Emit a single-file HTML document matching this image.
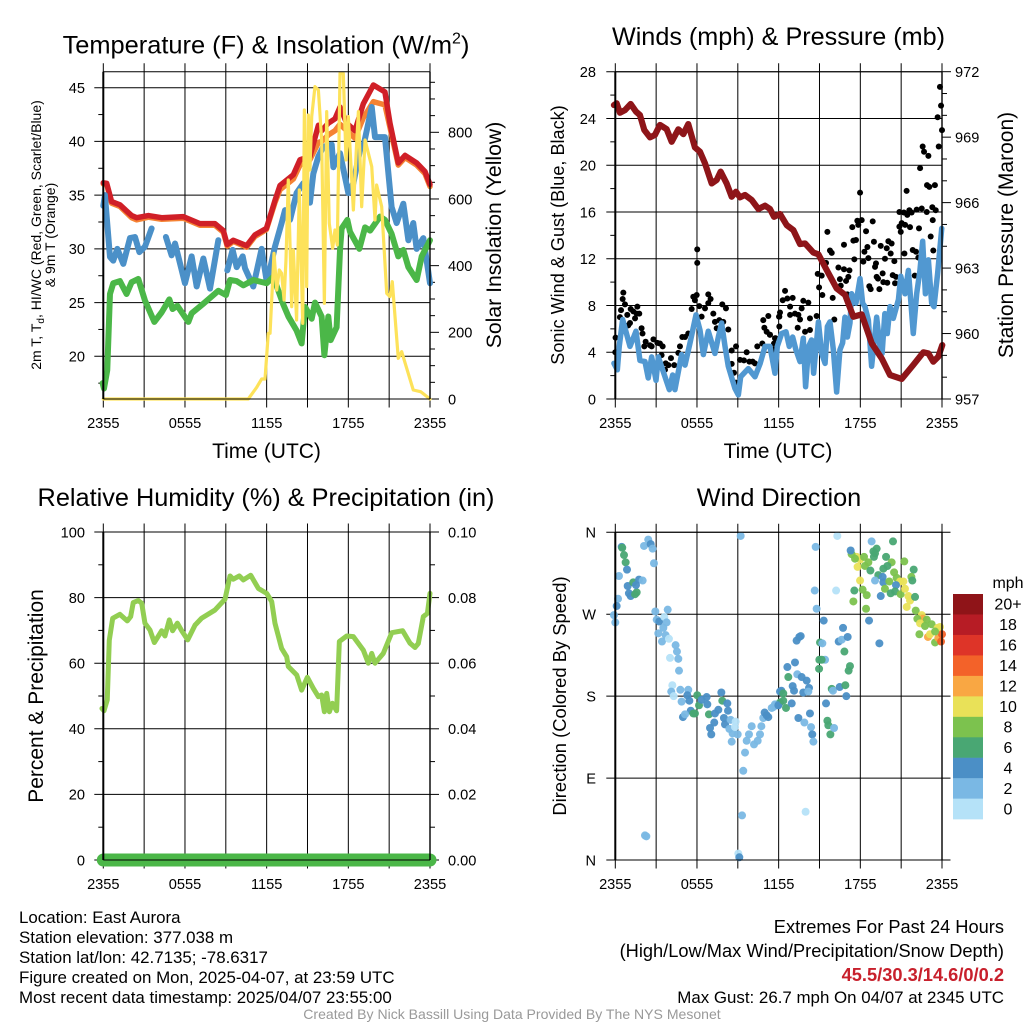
<!DOCTYPE html>
<html lang="en">
<head>
<meta charset="utf-8">
<title>East Aurora Meteogram</title>
<style>
html,body{margin:0;padding:0;background:#fff}
svg{display:block}
text{font-family:"Liberation Sans",sans-serif;fill:#000}
</style>
</head>
<body>
<svg id="fig" xmlns="http://www.w3.org/2000/svg" width="1024" height="1024" viewBox="0 0 1024 1024">
  <rect x="0" y="0" width="1024" height="1024" fill="#fff"/>

  <g id="p1"></g>
  <g id="p2"></g>
  <g id="p3"></g>
  <g id="p4"></g>

  <text x="266" y="53.5" font-size="25.4" text-anchor="middle">Temperature (F) &amp; Insolation (W/m<tspan dy="-10" font-size="16">2</tspan><tspan dy="10">)</tspan></text>
  <text x="266.5" y="458" font-size="21" text-anchor="middle">Time (UTC)</text>
  <text transform="translate(41,235) rotate(-90)" font-size="14" text-anchor="middle">2m T, T<tspan dy="3" font-size="10">d</tspan><tspan dy="-3">, HI/WC (Red, Green, Scarlet/Blue)</tspan></text>
  <text transform="translate(55,235) rotate(-90)" font-size="14" text-anchor="middle">&amp; 9m T (Orange)</text>
  <text transform="translate(501,235) rotate(-90)" font-size="21.2" text-anchor="middle">Solar Insolation (Yellow)</text>

  <text x="778.5" y="45" font-size="25.2" text-anchor="middle">Winds (mph) &amp; Pressure (mb)</text>
  <text x="778" y="458" font-size="21" text-anchor="middle">Time (UTC)</text>
  <text transform="translate(564,235) rotate(-90)" font-size="18.1" text-anchor="middle">Sonic Wind &amp; Gust (Blue, Black)</text>
  <text transform="translate(1013,235) rotate(-90)" font-size="21" text-anchor="middle">Station Pressure (Maroon)</text>

  <text x="266" y="506" font-size="25.3" text-anchor="middle">Relative Humidity (%) &amp; Precipitation (in)</text>
  <text transform="translate(43,696) rotate(-90)" font-size="21" text-anchor="middle">Percent &amp; Precipitation</text>

  <text x="779" y="506" font-size="25.3" text-anchor="middle">Wind Direction</text>
  <text transform="translate(566,696) rotate(-90)" font-size="18.4" text-anchor="middle">Direction (Colored By Speed)</text>

  <g id="legend">
    <text x="1008" y="588" font-size="16" text-anchor="middle">mph</text>
  </g>

  <g font-size="16.9">
    <text x="19" y="923">Location: East Aurora</text>
    <text x="19" y="943">Station elevation: 377.038 m</text>
    <text x="19" y="963">Station lat/lon: 42.7135; -78.6317</text>
    <text x="19" y="983">Figure created on Mon, 2025-04-07, at 23:59 UTC</text>
    <text x="19" y="1003">Most recent data timestamp: 2025/04/07 23:55:00</text>
  </g>
  <g text-anchor="end">
    <text x="1004" y="933" font-size="18.25">Extremes For Past 24 Hours</text>
    <text x="1004" y="957" font-size="18.25">(High/Low/Max Wind/Precipitation/Snow Depth)</text>
    <text x="1004" y="981" font-size="18.25" font-weight="bold" style="fill:#c8202c">45.5/30.3/14.6/0/0.2</text>
    <text x="1004" y="1003" font-size="16.9">Max Gust: 26.7 mph On 04/07 at 2345 UTC</text>
  </g>
  <text x="512" y="1019" font-size="14.05" text-anchor="middle" style="fill:#999">Created By Nick Bassill Using Data Provided By The NYS Mesonet</text>
</svg>

<script>
/* ---------- shared tick data ---------- */
const timeTickHours = [0, 6, 12, 18, 24];
const timeTickLabels = ["2355", "0555", "1155", "1755", "2355"];
const timeGridHours = [0, 3, 6, 9, 12, 15, 18, 21, 24];

/* ---------- temperature panel data ---------- */
const tempTicks = [20, 25, 30, 35, 40, 45];
const tempMinorTicks = [17.5, 22.5, 27.5, 32.5, 37.5, 42.5];
const solarTicks = [0, 200, 400, 600, 800];
const solarMinorTicks = [50, 100, 150, 250, 300, 350, 450, 500, 550, 650, 700, 750, 850, 900, 950];

const redHours = [0, .25, .61, 1.22, 2.08, 2.45, 3.31, 4.29, 5.88, 7.1, 8.2, 8.82, 9.1, 9.55, 10.53, 11.14, 11.98, 12.61, 12.98, 13.96, 14.45, 15.18, 15.8, 16.04, 16.53, 17.02, 17.39, 17.88, 18.49, 19.1, 19.84, 20.69, 21.06, 21.67, 22.17, 23.02, 23.63, 24];
const redTemp = [36.15, 36.1, 34.4, 34.1, 33.1, 32.9, 33.1, 32.9, 33, 32.35, 32.35, 31.7, 30.4, 30.8, 30.3, 31.3, 31.9, 34.5, 35.9, 36.9, 38.3, 38.6, 41.5, 41, 41.7, 42.1, 43.2, 41.7, 41, 43.5, 45.25, 44.6, 41.7, 38, 38.7, 38, 37.2, 36];
const orangeTemp = [36.05, 36, 34.25, 33.95, 32.9, 32.7, 32.95, 32.75, 32.85, 32.2, 32.2, 31.55, 30.25, 30.7, 30.15, 31.15, 31.8, 34.3, 35.5, 36.5, 37.8, 38.3, 39.9, 40, 40.6, 41, 41.6, 41, 40.3, 42.2, 43.7, 43.4, 41.3, 37.8, 38.5, 37.8, 37, 35.8];

const blueHours = [0, .12, .49, .73, 1.03, 1.47, 1.96, 2.33, 2.65, 3.06, 3.55, 3.6, 4.6, 5.02, 5.27, 6, 6.49, 6.86, 7.35, 7.84, 8.45, 8.5, 9.11, 9.5, 9.8, 10.24, 10.41, 11.02, 11.63, 12, 12.12, 12.61, 13.1, 13.35, 13.72, 14.2, 14.69, 15.18, 15.43, 15.8, 16.16, 16.78, 16.9, 17.39, 18, 18.37, 18.86, 19.1, 19.72, 19.96, 20.69, 21.18, 21.55, 22.04, 22.41, 22.77, 23.02, 23.51, 24];
const blueTemp = [34, 35, 29.25, 28.9, 30, 28.6, 31, 31.1, 29.7, 30.2, 31.9, null, 31.1, 29.4, 30.5, 26.8, 29.3, 26.5, 29.1, 26.3, 30.8, null, 28, 29.9, 28.3, 29.3, 28.2, 26.5, 30, 27, 27.4, 30.2, 32.4, 33.6, 32.7, 35.2, 36.1, 34.3, 37, 38.6, 39.5, 39.7, 37.6, 38.9, 35.2, 36.1, 39.2, 39.5, 43.2, 40.4, 40.4, 33.9, 32.4, 34.2, 30.8, 32.4, 30, 31, 26.8];

const greenHours = [-.05, .05, .29, .49, .73, 1.22, 1.71, 2.08, 2.57, 3.06, 3.75, 4.29, 4.85, 5.09, 5.44, 6.25, 6.49, 7.35, 8.45, 9.01, 9.31, 9.8, 10.29, 11.02, 12, 12.49, 12.86, 13.23, 13.6, 14.2, 14.57, 14.82, 15.31, 15.55, 16.04, 16.24, 16.53, 16.7, 17.14, 17.39, 17.51, 17.93, 18.12, 18.81, 19.23, 19.6, 20.33, 20.69, 21.18, 21.67, 22.04, 22.41, 23.02, 23.39, 24];
const greenTemp = [17.5, 17, 18.7, 25.8, 26.8, 27, 25.8, 26.9, 27.2, 25.2, 23.2, 24.1, 25.3, 24.4, 24.7, 23.2, 24, 24.9, 26.1, 25.7, 27.1, 27, 26.6, 27.1, 26.8, 27.4, 26.1, 24.8, 23.7, 22.4, 21.2, 24.6, 23.5, 25, 23.7, 20.1, 23.7, 21.5, 22.7, 29.9, 31.9, 32.7, 31.6, 30, 32, 31.7, 33, 32.7, 31.4, 29.3, 29.9, 28.3, 27.1, 29.3, 30.8];

const solarHours = [0, 10.65, 11.27, 11.63, 11.88, 12.12, 12.25, 12.54, 12.74, 12.93, 13.1, 13.28, 13.42, 13.59, 13.84, 13.96, 14.2, 14.4, 14.65, 14.77, 14.94, 15.06, 15.18, 15.31, 15.55, 15.8, 16.04, 16.24, 16.41, 16.6, 16.85, 17.02, 17.19, 17.39, 17.63, 17.83, 18, 18.37, 18.61, 18.74, 18.98, 19.23, 19.72, 19.96, 20.08, 20.45, 20.82, 21.06, 21.23, 21.67, 21.92, 22.77, 23.31, 24];
const solarValues = [0, 0, 35, 60, 60, 197, 197, 437, 327, 387, 377, 297, 417, 657, 277, 447, 237, 627, 227, 867, 337, 852, 687, 847, 937, 927, 777, 287, 862, 527, 452, 507, 462, 977, 977, 717, 847, 567, 767, 862, 577, 777, 697, 537, 642, 577, 317, 307, 352, 122, 142, 27, 22, 0];

/* ---------- winds panel data ---------- */
const windTicks = [0, 4, 8, 12, 16, 20, 24, 28];
const windMinorTicks = [2, 6, 10, 14, 18, 22, 26];
const pressureTicks = [957, 960, 963, 966, 969, 972];
const pressureMinorTicks = [958, 959, 961, 962, 964, 965, 967, 968, 970, 971];

const pressureHours = [-.1, .1, .34, .71, 1.13, 1.52, 1.81, 2.13, 2.55, 2.91, 3.28, 3.77, 4.14, 4.63, 5, 5.36, 5.85, 6.22, 6.59, 7.08, 7.45, 7.74, 8.18, 8.55, 8.87, 9.16, 9.53, 10.02, 10.51, 11, 11.36, 11.66, 12.1, 12.59, 13.08, 13.57, 13.94, 14.55, 14.92, 15.53, 16.26, 16.88, 17.49, 18.1, 18.84, 19.57, 20.18, 21.04, 21.89, 22.63, 23, 23.36, 23.73, 24.02];
const pressureValues = [970.47, 970.55, 970.12, 970.24, 970.52, 970.17, 970.01, 969.33, 968.99, 969.1, 969.56, 969.37, 968.79, 969.36, 969.14, 969.6, 968.53, 968.33, 967.8, 966.88, 967.04, 967.42, 966.88, 966.27, 966.5, 966.24, 966.35, 966.12, 965.71, 965.86, 965.71, 965.35, 965.48, 964.97, 964.74, 964.1, 964.13, 963.71, 963.63, 962.91, 962.07, 961.77, 960.77, 960.88, 959.55, 958.86, 958.1, 957.92, 958.56, 959.14, 959.09, 958.71, 958.94, 959.47];

const windHours = [-.1, .15, .29, .54, 1.08, 1.52, 1.81, 2.18, 2.42, 2.67, 2.99, 3.16, 3.65, 3.97, 4.21, 4.38, 4.87, 5.12, 5.49, 5.93, 6.22, 6.47, 6.83, 7.32, 7.57, 7.81, 8.06, 8.3, 8.79, 9.04, 9.21, 9.77, 10.26, 10.63, 11, 11.36, 11.73, 11.9, 12.22, 12.54, 12.78, 13.03, 13.27, 13.57, 13.81, 13.98, 14.2, 14.42, 14.57, 14.92, 15.16, 15.41, 15.58, 15.77, 16.02, 16.26, 16.5, 16.7, 16.87, 17.05, 17.24, 17.36, 17.68, 17.98, 18.17, 18.34, 18.59, 18.83, 19.2, 19.44, 19.6, 19.8, 19.98, 20.18, 20.42, 20.8, 20.97, 21.28, 21.53, 21.7, 21.89, 22.14, 22.38, 22.58, 22.78, 23, 23.24, 23.41, 23.68, 23.98];
const windSpeed = [3.05, 2.5, 4.5, 6.8, 4.5, 5.8, 3.3, 3.2, 1.8, 3.6, 1.6, 3.6, 1.9, .8, 2.05, .8, 3.8, 2.9, 4.8, 7.2, 5.9, 3.8, 5.8, 3.9, 5.3, 6.5, 4.5, 2.8, .9, .35, 1.9, 2.6, 1.9, 3, 4.5, 4.5, 2.2, 4.5, 5.6, 5.75, 4.5, 5.3, 4.2, 3.2, 5.2, 1.05, 4.5, 5.05, 2.2, 6.6, 3.9, 3.05, 6.2, 6.6, 4.2, .6, 4.2, 4.8, 7, 5.3, 6.5, 9, 8.2, 10.3, 8.2, 7.9, 6.75, 2.8, 7, 4.5, 3.9, 7.3, 5.6, 7.9, 6.9, 8.5, 10.5, 9, 11, 8.5, 5.6, 9, 11, 13.5, 9, 11.9, 8.2, 7.9, 10.75, 14.6];

const gustHours = [0, .02, .34, .42, .54, .59, .71, .95, 1.08, .88, 1.13, 1.32, 1.45, 1.62, 1.76, 1.57, 1.93, 2, 2.13, 2.23, 2.55, 2.67, 2.8, 3.09, 3.28, 3.48, 3.4, 3.7, 3.9, 4.09, 4.33, 3.65, 4.63, 4.75, 4.92, 5.12, 5.36, 5.61, 5.73, 5.98, 5.85, 6.02, 6.02, 6.17, 6.34, 6.59, 6.83, 7, 6.83, 7.2, 7.32, 7.45, 7.64, 7.86, 8.13, 7.93, 8.3, 8.55, 8.87, 8.55, 8.72, 8.87, 9.16, 9.45, 9.65, 9.85, 10.09, 10.26, 10.43, 10.8, 10.87, 11.24, 10.95, 11.12, 11.36, 11.66, 11.78, 12.03, 12.05, 12.1, 12.47, 12.3, 12.64, 13.03, 12.84, 12.84, 13.2, 13.45, 13.69, 13.81, 14.18, 13.57, 14.3, 14.79, 14.3, 13.94, 13.4, 12.05, 11.36, 11.73, 11.61, 14.67, 14.97, 15.21, 14.87, 15.16, 15.48, 15.58, 15.77, 15.9, 15.97, 16.09, 16.39, 16.8, 16.8, 16.5, 16.56, 17.2, 17.12, 16.95, 17.05, 17.41, 17.49, 17.68, 17.56, 17.78, 17.85, 18.1, 17.98, 18.42, 18.91, 18.52, 18.3, 18.22, 18.59, 19, 19.5, 19.15, 19.08, 19.81, 20.06, 19.94, 20.3, 20.23, 20.5, 18.66, 18.76, 19.2, 19.4, 19.3, 19.64, 19.69, 19.98, 20.38, 20.62, 20.55, 20.87, 21.2, 21.6, 21.45, 21.77, 22.14, 22.51, 22.88, 23.29, 23.54, 20.87, 21.04, 21.29, 21.65, 20.97, 22.31, 21.4, 22.39, 22.58, 22.68, 23, 22.9, 23.07, 23.48, 23.32, 23.17, 23.36, 21.24, 21.85, 22.09, 22.26, 22, 23.68, 23.85, 23.93, 24, 23.76];
const gustSpeed = [4, 5.25, 7, 7.6, 8.55, 9.1, 8.1, 6.3, 6.5, 7.2, 7.7, 7.5, 6.9, 7.9, 7.3, 7.3, 6.05, 5.6, 4.5, 4.9, 4.6, 4.5, 5.1, 4.8, 4.75, 4.5, 3.75, 3.05, 2.9, 3.5, 2.9, 2.5, 3.95, 4.5, 5.3, 5.3, 5.6, 7.7, 8.75, 8.9, 8.45, 12.8, 11.65, 7.95, 7.05, 7.75, 8.2, 8.55, 8.95, 7.3, 6.6, 6.05, 6.75, 8.1, 7.75, 6.6, 5.95, 4.15, 4.5, 3, 2.25, 1.4, 3.35, 3.3, 4, 3.2, 3.2, 3.05, 4.5, 4.75, 6.75, 7.1, 6.1, 5.75, 5.5, 4.75, 5.2, 7.05, 7.05, 7.4, 9.25, 8.45, 8.6, 8.65, 7.9, 7.2, 7.3, 7.2, 7.75, 8.4, 8.25, 6.8, 6.9, 7.1, 5.9, 5.75, 6.1, 6.2, 5.5, 5.2, 4.25, 4.2, 9.55, 8.9, 10.7, 10.55, 11.65, 14.3, 12.7, 12.5, 8.65, 6.8, 11.25, 13.2, 11.1, 10.25, 9.7, 11, 10.45, 10.1, 8.95, 14.7, 13.55, 13.6, 11.95, 15.25, 14.9, 15.3, 17.65, 14.35, 15.2, 13, 12.6, 11.75, 12.05, 13.45, 13.1, 11.6, 11.3, 12, 13.5, 12.9, 13.3, 12.45, 11.8, 9.65, 9.4, 10.45, 9.4, 10.3, 10.75, 10, 9.95, 10.6, 10.45, 9.9, 16, 15.95, 16.15, 15.75, 15.95, 16.2, 16.3, 16, 16.4, 16.15, 14.75, 15.05, 14.9, 14.7, 14.3, 14.6, 17.8, 19.75, 21.6, 21.15, 20.8, 18.3, 18.15, 18.3, 15.3, 13.9, 12.7, 12.45, 12.75, 12.6, 12.1, 10.55, 24.1, 26.7, 25.1, 23, 21.6];

/* ---------- humidity panel data ---------- */
const rhTicks = [0, 20, 40, 60, 80, 100];
const rhMinorTicks = [10, 30, 50, 70, 90];
const precipTicks = ["0.00", "0.02", "0.04", "0.06", "0.08", "0.10"];
const precipMinorTicks = [.01, .03, .05, .07, .09];
const rhHours = [-.1, .05, .29, .44, .69, 1.22, 1.76, 2.01, 2.2, 2.57, 2.82, 3.06, 3.43, 3.75, 4.29, 4.53, 4.85, 5.09, 5.44, 5.76, 6.2, 6.74, 7.22, 8.2, 8.94, 9.31, 9.55, 9.99, 10.29, 10.83, 11.39, 12, 12.37, 12.61, 13.1, 13.47, 13.59, 14.21, 14.57, 14.99, 15.43, 15.8, 16.04, 16.24, 16.41, 16.61, 16.83, 17.14, 17.34, 17.88, 18.37, 19.1, 19.47, 19.72, 19.96, 20.57, 21.19, 21.99, 22.53, 22.9, 23.14, 23.51, 23.81, 24];
const rhValues = [46.2, 45.5, 48.8, 67, 73.7, 74.9, 72.9, 74.2, 78.5, 79.1, 78.3, 72.2, 70.1, 66.3, 69.9, 68.3, 73.2, 69.9, 72.2, 69.9, 67.1, 71.6, 73.7, 76.2, 79.5, 86.6, 85.6, 86.6, 85.4, 86.8, 82.8, 81.3, 78.8, 72.2, 64.5, 62, 59, 56.4, 51.8, 55.7, 52.3, 49.8, 50.3, 45.2, 50.8, 45.2, 47.8, 45.5, 66.6, 68.3, 68.1, 64, 60, 63, 60, 63, 69.3, 69.9, 66.1, 64.8, 66, 74.2, 75.2, 81.3];
const precipHours = [0, 24];
const precipValues = [0, 0];

/* ---------- wind direction panel data ---------- */
const compassDegrees = [0, 90, 180, 270, 360];
const compassLabels = ["N", "E", "S", "W", "N"];
const dirHours = [.47, .51, .64, .76, .86, .27, .2, .1, -.1, 0, .91, 1, 1.13, 1.32, 1.45, 1.57, 1.52, 1.74, 2.01, 2.11, 2.42, 2.6, 2.74, 2.84, 2.94, 3.04, 3.23, 3.6, 3.85, 3.77, 3.53, 3.16, 3.43, 3.7, 3.94, 4.43, 4.53, 4.02, 4.63, 4.68, 4.19, 4.11, 4.29, 4.78, 5.36, 4.87, 5.29, 5.44, 5.54, 4.97, 5.12, 5.73, 5.85, 6.02, 6.15, 6.34, 6.71, 6.76, 6.88, 7.32, 7.57, 7.79, 7.86, 8.23, 8.28, 7.27, 7.98, 8.06, 6.96, 7.05, 8.38, 8.47, 8.84, 8.62, 8.99, 8.55, 8.79, 9.21, 9.53, 9.4, 9.31, 2.18, 2.28, 9.04, 9.11, 10.02, 9.82, 9.65, 10.19, 10.46, 10.63, 10.73, 10.87, 10.97, 11.24, 11.12, 11.49, 11.73, 11.93, 12.1, 12.1, 11.61, 11.85, 11.98, 12.2, 12.34, 12.34, 12.54, 12.96, 13.45, 13.89, 14.3, 14.38, 14.47, 14.55, 13.98, 12.64, 13.2, 12.71, 13.37, 13.69, 14.06, 13.03, 13.13, 13.81, 14.23, 14.18, 13.32, 13.52, 13.62, 15.48, 15.58, 15.65, 15.8, 16.07, 15.9, 15.99, 16.48, 16.9, 16.97, 17.14, 17.24, 16.83, 14.99, 15.41, 15.16, 14.97, 15.04, 15.21, 16.41, 16.63, 17.07, 16.73, 15.31, 14.79, 14.65, 16.22, 14.72, 16.31, 18.64, 19.4, 19.5, 17.49, 18.42, 17.56, 18.17, 18.47, 17.98, 17.8, 17.73, 17.98, 17.36, 17.29, 17.61, 18.27, 18.34, 18.59, 18.74, 18.83, 18.96, 19.2, 19.08, 19, 19.89, 20.4, 20.3, 19.99, 19.69, 19.32, 20.48, 21.23, 21.92, 21.75, 21.82, 19.08, 19.64, 19.69, 20.13, 19.81, 20.67, 20.92, 21.16, 20.62, 20.23, 20.55, 20.96, 21.28, 21.53, 21.65, 21.41, 22.02, 22.07, 22.51, 22.58, 22.88, 22.19, 22.39, 22.75, 23.24, 22.34, 22.97, 23.12, 23.49, 23.73, 23.68, 23.85, 24, 23.93, 23.49];
const dirDegrees = [344, 343, 335, 327, 319, 312, 287, 279, 269, 261, 301, 293, 290, 305, 292, 294, 302, 308, 307, 345, 352, 347, 342, 326, 273, 264, 262, 267, 275, 261, 255, 249, 240, 247, 243, 236, 229, 222, 221, 208, 192, 185, 180, 187, 187, 174, 181, 175, 164, 157, 160, 161, 161, 181, 170, 176, 179, 171, 160, 161, 165, 184, 175, 172, 164, 151, 156, 149, 145, 138, 144, 154, 152, 139, 138, 130, 146, 356, 118, 98, 49, 27, 26, 7, 3, 147, 138, 131, 127, 131, 138, 147, 156, 162, 157, 159, 167, 171, 170, 185, 173, 168, 170, 170, 186, 183, 175, 167, 172, 156, 151, 161, 146, 138, 130, 53, 212, 217, 201, 204, 201, 197, 191, 186, 184, 189, 185, 241, 245, 246, 172, 153, 148, 138, 145, 188, 186, 190, 192, 180, 208, 213, 229, 220, 220, 220, 210, 239, 238, 240, 242, 245, 255, 263, 276, 296, 296, 344, 356, 263, 238, 290, 284, 276, 296, 297, 291, 307, 322, 333, 330, 336, 340, 331, 333, 323, 327, 318, 350, 339, 342, 337, 333, 333, 350, 327, 323, 320, 313, 316, 328, 319, 311, 307, 307, 311, 305, 306, 298, 310, 306, 306, 302, 293, 295, 292, 298, 290, 285, 278, 289, 274, 269, 265, 264, 265, 260, 257, 259, 248, 245, 248, 239, 244, 255, 256, 248, 240, 251];
const dirSpeeds = [4, 6, 6, 6, 4, 2, 2, 4, 2, 2, 4, 4, 4, 6, 6, 6, 4, 4, 2, 2, 2, 4, 2, 2, 2, 2, 4, 0, 2, 2, 2, 2, 2, 2, 0, 2, 2, 0, 2, 2, 0, 2, 0, 2, 2, 2, 4, 4, 4, 4, 2, 6, 6, 6, 6, 4, 4, 4, 6, 4, 4, 4, 6, 4, 4, 4, 4, 4, 4, 4, 2, 2, 0, 2, 2, 2, 0, 2, 2, 2, 2, 2, 2, 0, 4, 2, 2, 2, 2, 2, 2, 2, 2, 4, 4, 4, 2, 2, 4, 4, 6, 2, 2, 4, 4, 6, 6, 6, 4, 4, 2, 4, 2, 4, 2, 0, 4, 4, 6, 2, 4, 4, 4, 4, 4, 4, 2, 4, 4, 4, 4, 6, 6, 6, 2, 6, 2, 4, 6, 4, 6, 6, 6, 6, 2, 6, 6, 6, 2, 4, 2, 4, 4, 4, 2, 2, 0, 2, 0, 4, 4, 4, 8, 8, 6, 8, 8, 10, 10, 10, 10, 8, 4, 8, 8, 8, 8, 6, 2, 6, 6, 6, 6, 6, 6, 8, 6, 6, 6, 8, 8, 6, 8, 6, 2, 4, 4, 8, 8, 8, 10, 10, 4, 6, 6, 8, 10, 10, 10, 10, 6, 8, 10, 12, 8, 8, 10, 8, 8, 8, 12, 10, 8, 12, 10, 10, 14, 14, 8];

/* ---------- legend data ---------- */
const legendLabels = ["20+", "18", "16", "14", "12", "10", "8", "6", "4", "2", "0"];
const legendLevels = [20, 18, 16, 14, 12, 10, 8, 6, 4, 2, 0];
const legendColors = ["#8f1418", "#b71c25", "#de3428", "#f36229", "#f9a743", "#e9e158", "#7cc24e", "#49a773", "#4b8fc6", "#7ab8e4", "#b5e2f8"];

/* ---------- helpers ---------- */
const NS = "http://www.w3.org/2000/svg";
const BLACK = "#000";

function make(parent, tag, attrs, name) {
  const el = document.createElementNS(NS, tag);
  for (const k in attrs) el.setAttribute(k, attrs[k]);
  
  
  parent.appendChild(el);
  return el;
}
function scale(d0, d1, r0, r1) {
  return v => r0 + (v - d0) * (r1 - r0) / (d1 - d0);
}
function seg(parent, x1, y1, x2, y2, w, name) {
  make(parent, "line", {x1: x1, y1: y1, x2: x2, y2: y2, stroke: BLACK, "stroke-width": w}, name);
}
function label(parent, x, y, str, anchor, name) {
  const t = make(parent, "text", {x: x, y: y, "font-size": 14.6, "text-anchor": anchor}, name);
  t.textContent = str;
}
function series(parent, hours, values, fx, fy, color, width, name) {
  let d = "", pen = false;
  values.forEach((v, i) => {
    if (v === null) { pen = false; return; }
    d += (pen ? "L" : "M") + fx(hours[i]).toFixed(2) + " " + fy(v).toFixed(2);
    pen = true;
  });
  make(parent, "path", {d: d, fill: "none", stroke: color, "stroke-width": width, "stroke-linejoin": "round", "stroke-linecap": "round"}, name);
}
function timeAxis(parent, p, fx) {
  timeGridHours.forEach(h => {
    seg(parent, fx(h), p.top - 8.5, fx(h), p.bottom + 8.5, 1, "time-gridline");
  });
  timeTickHours.forEach((h, i) => {
    label(parent, fx(h), p.bottom + 29, timeTickLabels[i], "middle", "time-tick-label");
  });
}
function leftAxis(parent, p, fy, ticks, minor, labels, labelX, hasRightTick) {
  ticks.forEach((v, i) => {
    seg(parent, p.left - 9, fy(v), hasRightTick ? p.right + 8.5 : p.right, fy(v), 1, "horizontal-gridline");
    label(parent, labelX, fy(v) + 5.3, labels[i], "end", "left-tick-label");
  });
  minor.forEach(v => {
    seg(parent, p.left - 5, fy(v), p.left, fy(v), 1, "left-minor-tick");
  });
}
function rightAxis(parent, p, fy, ticks, minor, labels, labelX) {
  ticks.forEach((v, i) => {
    seg(parent, p.right, fy(v), p.right + 9, fy(v), 1, "right-major-tick");
    label(parent, labelX, fy(v) + 5.3, labels[i], "start", "right-tick-label");
  });
  minor.forEach(v => {
    seg(parent, p.right, fy(v), p.right + 5, fy(v), 1, "right-minor-tick");
  });
}
function frame(parent, p) {
  seg(parent, p.left, p.top, p.right, p.top, 1, "plot-frame-top");
  seg(parent, p.left, p.bottom, p.right, p.bottom, 1, "plot-frame-bottom");
  seg(parent, p.left, p.top, p.left, p.bottom, 2, "plot-frame-left");
  seg(parent, p.right, p.top, p.right, p.bottom, 1.4, "plot-frame-right");
}

/* ---------- panel 1: temperature ---------- */
(function () {
  const g = document.getElementById("p1");
  const p = {left: 103.3, right: 430, top: 71.7, bottom: 399};
  const fx = scale(0, 24, p.left, p.right);
  const fy = scale(20, 45, 356.3, 87.7);
  const fs = scale(0, 800, 399, 132.3);
  timeAxis(g, p, fx);
  leftAxis(g, p, fy, tempTicks, tempMinorTicks, tempTicks.map(String), 85, false);
  rightAxis(g, p, fs, solarTicks, solarMinorTicks, solarTicks.map(String), 448);
  series(g, redHours, orangeTemp, fx, fy, "#f58233", 5.5, "orange-9m-temperature-line");
  series(g, redHours, redTemp, fx, fy, "#d01f27", 5.5, "red-2m-temperature-line");
  series(g, blueHours, blueTemp, fx, fy, "#4b90c8", 6, "blue-wind-chill-line");
  series(g, greenHours, greenTemp, fx, fy, "#4bb748", 6, "green-dewpoint-line");
  series(g, solarHours, solarValues, fx, fs, "#fde25a", 3.2, "yellow-solar-insolation-line");
  frame(g, p);
})();

/* ---------- panel 2: winds ---------- */
(function () {
  const g = document.getElementById("p2");
  const p = {left: 615.3, right: 942, top: 71.7, bottom: 399};
  const fx = scale(0, 24, p.left, p.right);
  const fy = scale(0, 28, p.bottom, p.top);
  const fp = scale(957, 972, p.bottom, p.top);
  timeAxis(g, p, fx);
  leftAxis(g, p, fy, windTicks, windMinorTicks, windTicks.map(String), 596, false);
  rightAxis(g, p, fp, pressureTicks, pressureMinorTicks, pressureTicks.map(String), 955);
  gustHours.forEach((h, i) => {
    make(g, "circle", {cx: fx(h), cy: fy(gustSpeed[i]), r: 3, fill: "#000"}, "wind-gust-dot");
  });
  series(g, windHours, windSpeed, fx, fy, "#5198d1", 5.5, "sonic-wind-line");
  series(g, pressureHours, pressureValues, fx, fp, "#8e1519", 6.2, "station-pressure-line");
  frame(g, p);
})();

/* ---------- panel 3: humidity ---------- */
(function () {
  const g = document.getElementById("p3");
  const p = {left: 103.3, right: 430, top: 532, bottom: 860};
  const fx = scale(0, 24, p.left, p.right);
  const fy = scale(0, 100, p.bottom, p.top);
  const fr = scale(0, .1, p.bottom, p.top);
  timeAxis(g, p, fx);
  leftAxis(g, p, fy, rhTicks, rhMinorTicks, rhTicks.map(String), 85, false);
  rightAxis(g, p, fr, precipTicks.map(Number), precipMinorTicks, precipTicks, 448);
  series(g, rhHours, rhValues, fx, fy, "#92ce52", 5, "relative-humidity-line");
  series(g, precipHours, precipValues, fx, fr, "#4bb748", 13, "precipitation-line");
  frame(g, p);
})();

/* ---------- panel 4: wind direction ---------- */
function speedColor(s) {
  for (let i = 0; i < legendLevels.length; i++) {
    if (s >= legendLevels[i]) return legendColors[i];
  }
  return legendColors[legendColors.length - 1];
}
(function () {
  const g = document.getElementById("p4");
  const p = {left: 615.3, right: 942, top: 532.3, bottom: 860};
  const fx = scale(0, 24, p.left, p.right);
  const fy = scale(0, 360, p.bottom, p.top);
  timeAxis(g, p, fx);
  leftAxis(g, p, fy, compassDegrees, [], compassLabels, 596, true);
  dirHours.forEach((h, i) => {
    make(g, "circle", {cx: fx(h), cy: fy(dirDegrees[i]), r: 4, fill: speedColor(dirSpeeds[i]), "fill-opacity": .95}, "wind-direction-dot");
  });
  frame(g, p);
})();

/* ---------- legend ---------- */
(function () {
  const g = document.getElementById("legend");
  const top = 594, h = 20.47;
  legendColors.forEach((c, i) => {
    make(g, "rect", {x: 953, y: top + i * h, width: 30, height: h + .2, fill: c}, "legend-swatch");
    const t = make(g, "text", {x: 1008, y: top + (i + .5) * h + 5.5, "font-size": 16, "text-anchor": "middle"}, "legend-label");
    t.textContent = legendLabels[i];
  });
})();
</script>
</body>
</html>
